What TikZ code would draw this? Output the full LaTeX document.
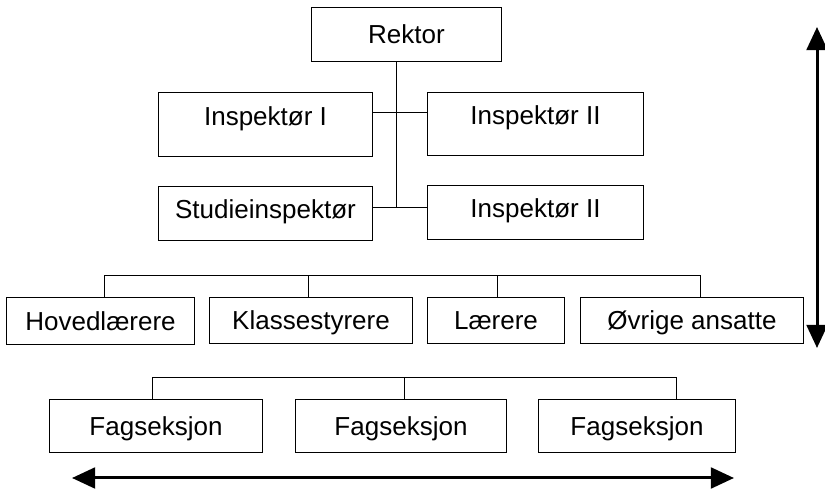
\documentclass[tikz,border=0pt]{standalone}
\usepackage{fontspec}
\setmainfont{Liberation Sans}
\usetikzlibrary{arrows.meta}
\begin{document}
\begin{tikzpicture}[x=0.025cm, y=-0.025cm,
  boks/.style={draw, line width=0.7pt, inner sep=0pt, text height=13.2pt, text depth=0pt,
    font=\fontsize{18.5}{20}\selectfont},
  pil/.style={line width=0.075cm, {Triangle[length=0.58cm, width=0.52cm]}-{Triangle[length=0.58cm, width=0.52cm]}}]

\useasboundingbox (0,0) rectangle (825,490);

%draw top boxes
\node[boks, minimum width=4.725cm, minimum height=1.325cm] (rektor) at (406.5,34.5) {Rektor};
\node[boks, minimum width=5.325cm, minimum height=1.575cm, text depth=12pt] (insp1) at (265.5,124.5) {Inspektør I};
\node[boks, minimum width=5.375cm, minimum height=1.55cm, text depth=12pt] (insp2a) at (535.5,124) {Inspektør II};
\node[boks, minimum width=5.325cm, minimum height=1.325cm, text depth=6pt] (studie) at (265.5,213.5) {Studieinspektør};
\node[boks, minimum width=5.375cm, minimum height=1.325cm, text depth=6pt] (insp2b) at (535.5,212.5) {Inspektør II};

%draw lines between top boxes
\coordinate (midt1) at (396,112);
\coordinate (midt2) at (396,207);
\draw (rektor.south -| midt1) -- (midt2);
\draw (insp1.east |- midt1) -- (insp2a.west |- midt1);
\draw (studie.east |- midt2) -- (insp2b.west |- midt2);

%draw middle boxes
\node[boks, minimum width=4.675cm, minimum height=1.175cm] (hoved) at (100.5,321) {Hovedlærere};
\node[boks, minimum width=5.05cm, minimum height=1.15cm] (klasse) at (311,320.5) {Klassestyrere};
\node[boks, minimum width=3.4cm, minimum height=1.15cm] (laerer) at (496,320.5) {Lærere};
\node[boks, minimum width=5.55cm, minimum height=1.15cm] (ovrige) at (692,320.5) {Øvrige ansatte};

\coordinate (buss1) at (0,275);
\foreach \n/\dx in {hoved/3.5, klasse/-3, laerer/1, ovrige/8}
  \draw ([xshift=\dx*0.025cm]\n.north) -- ([xshift=\dx*0.025cm]\n.north |- buss1);
\draw ([xshift=3.5*0.025cm]hoved.north |- buss1) -- ([xshift=8*0.025cm]ovrige.north |- buss1);

%draw bottom boxes
\node[boks, minimum width=5.3cm, minimum height=1.3cm] (fag1) at (156,426) {Fagseksjon};
\node[boks, minimum width=5.25cm, minimum height=1.3cm] (fag2) at (401,426) {Fagseksjon};
\node[boks, minimum width=4.9cm, minimum height=1.3cm] (fag3) at (637,426) {Fagseksjon};

\coordinate (buss2) at (0,377);
\foreach \n/\dx in {fag1/-4, fag2/3, fag3/39}
  \draw ([xshift=\dx*0.025cm]\n.north) -- ([xshift=\dx*0.025cm]\n.north |- buss2);
\draw ([xshift=-4*0.025cm]fag1.north |- buss2) -- ([xshift=39*0.025cm]fag3.north |- buss2);

%draw arrows
\coordinate (venstre) at (72,478);
\coordinate (hoyre) at (734,478);
\coordinate (topp) at (817,27);
\coordinate (bunn) at (817,348);
\draw[pil] (venstre) -- (hoyre);
\draw[pil] (topp) -- (bunn);
\end{tikzpicture}
\end{document}
